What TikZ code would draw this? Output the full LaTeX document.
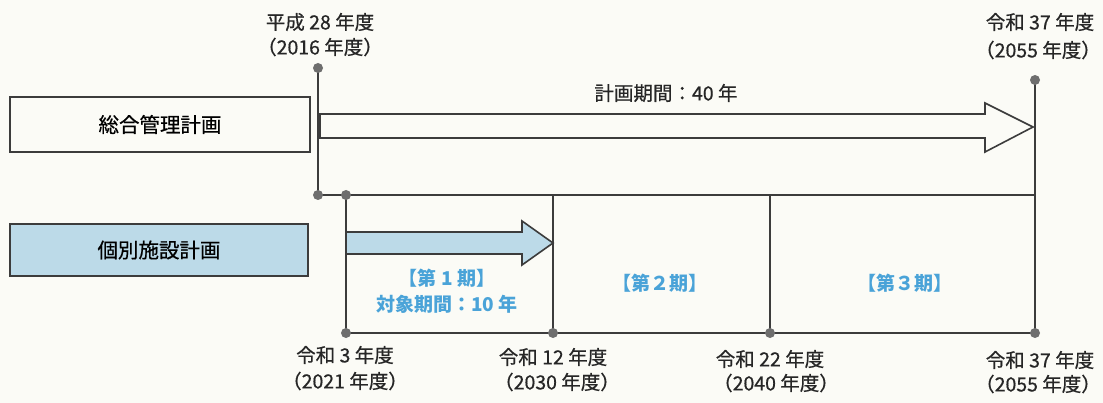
\documentclass[tikz,border=0pt]{standalone}
\usepackage{fontspec}
\setmainfont{Noto Sans CJK JP}
\newfontfamily\medfont{Noto Sans CJK JP}[FakeBold=0.6]
\definecolor{bg}{HTML}{FBFBF6}
\definecolor{lnc}{HTML}{3C3C3C}
\definecolor{dotc}{HTML}{6E6E6E}
\definecolor{pale}{HTML}{BCDAE8}
\definecolor{bltxt}{HTML}{4AA3D8}
\begin{document}
\begin{tikzpicture}[x=1pt,y=-1pt,
  lnk/.style={draw=lnc, line width=1.6pt},
  dotn/.style={circle, fill=dotc, inner sep=0pt, minimum size=10pt},
  lab/.style={align=center, text=black!85, inner sep=0pt, font=\medfont\fontsize{19.5}{22}\selectfont},
  plan/.style={draw=lnc, line width=1.6pt, minimum width=300pt, minimum height=55pt, font=\medfont\fontsize{20.5}{24}\selectfont},
  bluetext/.style={text=bltxt, align=center, inner sep=0pt, font=\bfseries\fontsize{19}{22}\selectfont}]
\fill[bg] (0,0) rectangle (1103,403);
\useasboundingbox (0,0) rectangle (1103,403);
% boxes
\node[plan] (sogo) at (160,124.5) {総合管理計画};
\node[plan, fill=pale, minimum width=298pt, minimum height=52pt] (kobetsu) at (159,250) {個別施設計画};
% coordinates
\coordinate (t0) at (318,68);
\coordinate (t0b) at (318,195);
\coordinate (t1) at (346,195);
\coordinate (e0) at (1035,80);
\coordinate (e1) at (1035,195);
\coordinate (m2) at (553,195);
\coordinate (m3) at (770,195);
\coordinate (b1) at (346,333);
\coordinate (b2) at (553,333);
\coordinate (b3) at (770,333);
\coordinate (b4) at (1035,333);
\coordinate (bigtip) at (1033,127);
\coordinate (bluetip) at (553,243);
% lines
\draw[lnk] (t0) -- (t0b) -- (e1);
\draw[lnk] (e0) -- (b4);
\draw[lnk] (t1) -- (b1) -- (b4);
\draw[lnk] (m2) -- (b2);
\draw[lnk] (m3) -- (b3);
% big arrow
\draw[lnk, fill=bg, line join=miter] (320,114) -- (985,114) -- (985,103) -- (bigtip) -- (985,152) -- (985,138) -- (320,138) -- cycle;
% blue arrow
\draw[lnk, fill=pale, line join=miter] (346,232) -- (522,232) -- (522,221) -- (bluetip) -- (522,265) -- (522,254) -- (346,254) -- cycle;
% dots
\foreach \p in {t0,t0b,t1,e0,b1,b2,b3,b4} \node[dotn] at (\p) {};
% labels
\node[lab] (l0a) at (320,22) {平成 28 年度};
\node[lab] (l0b) at (320,47) {（2016 年度）};
\node[lab] (r0a) at (1040,22) {令和 37 年度};
\node[lab] (r0b) at (1038,50) {（2055 年度）};
\node[lab] (period) at (666,93) {計画期間：40 年};
\node[bluetext] (p1a) at (447,278) {【第 1 期】};
\node[bluetext] (p1b) at (447,304) {対象期間：10 年};
\node[bluetext] (p2) at (660,283) {【第２期】};
\node[bluetext] (p3) at (905,283) {【第３期】};
\node[lab] (b1a) at (345,355) {令和 3 年度};
\node[lab] (b1b) at (345,381) {（2021 年度）};
\node[lab] (b2a) at (553,357) {令和 12 年度};
\node[lab] (b2b) at (557,382) {（2030 年度）};
\node[lab] (b3a) at (770,359) {令和 22 年度};
\node[lab] (b3b) at (776,383) {（2040 年度）};
\node[lab] (b4a) at (1040,360) {令和 37 年度};
\node[lab] (b4b) at (1038,384) {（2055 年度）};
\end{tikzpicture}
\end{document}
